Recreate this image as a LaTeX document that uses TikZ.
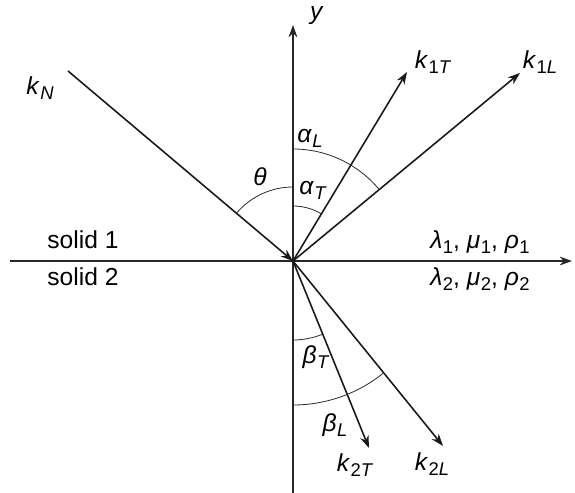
\documentclass[tikz,border=0pt]{standalone}
\usepackage{amsmath,amssymb}
\usepackage{fontspec}
\setmainfont{Liberation Sans}
\usetikzlibrary{positioning, arrows.meta, calc}
\tikzset{
  axisline/.style={line width=0.8pt, black!85, -{Stealth[length=7pt, width=5pt]}},
  waveline/.style={line width=0.9pt, black!90, -{Stealth[length=7pt, width=5pt]}},
  anglearc/.style={line width=0.45pt, black!85},
  lbl/.style={font=\fontsize{14}{17}\selectfont, inner sep=1pt}
}
% slanted symbol with a small lowered index
\newcommand{\wv}[2]{\textit{#1}\kern0.3pt\raisebox{-0.4ex}{\fontsize{10.5}{12}\selectfont #2}}

\begin{document}
\begin{tikzpicture}[x=0.02cm, y=0.02cm]
  \useasboundingbox (-293,-232) rectangle (282,261);
  \coordinate (O) at (0,0);
  \coordinate (xl) at (-283,0); \coordinate (xr) at (279,0);
  \coordinate (yb) at (0,-232); \coordinate (yt) at (0,236);
  \coordinate (kN) at (-225,190);
  \coordinate (k1T) at (114,189); \coordinate (k1L) at (227,188);
  \coordinate (k2T) at (76,-187); \coordinate (k2L) at (150,-185);
  % axes
  \draw[axisline] (xl) -- (xr);
  \draw[axisline] (yb) -- (yt);
  % waves
  \draw[waveline] (kN) -- (O);
  \draw[waveline] (O) -- (k1T);
  \draw[waveline] (O) -- (k1L);
  \draw[waveline] (O) -- (k2T);
  \draw[waveline] (O) -- (k2L);
  % angles
  \draw[anglearc] (90:74) arc[start angle=90, end angle=139.8, radius=74];
  \draw[anglearc] (90:55) arc[start angle=90, end angle=58.9, radius=55];
  \draw[anglearc] (90:112) arc[start angle=90, end angle=39.6, radius=112];
  \draw[anglearc] (270:79) arc[start angle=270, end angle=292.1, radius=79];
  \draw[anglearc] (270:144) arc[start angle=270, end angle=309.0, radius=144];
  % labels
  \node[lbl] (ylab) at (24,245) {\textit{y}};
  \node[lbl] (kNlab) at (-253,173) {\wv{k}{\textit{N}}};
  \node[lbl] (k1Tlab) at (140,199) {\wv{k}{1\textit{T}}};
  \node[lbl] (k1Llab) at (247,199) {\wv{k}{1\textit{L}}};
  \node[lbl] (k2Tlab) at (62,-204) {\wv{k}{2\textit{T}}};
  \node[lbl] (k2Llab) at (139,-203) {\wv{k}{2\textit{L}}};
  \node[lbl] (thlab) at (-33,84) {\textit{θ}};
  \node[lbl] (aTlab) at (20,71) {\wv{α}{\textit{T}}};
  \node[lbl] (aLlab) at (17,123) {\wv{α}{\textit{L}}};
  \node[lbl] (bTlab) at (23,-96) {\wv{β}{\textit{T}}};
  \node[lbl] (bLlab) at (42,-164) {\wv{β}{\textit{L}}};
  \node[lbl] (mat1) at (187,19) {\wv{λ}{1}, \wv{μ}{1}, \wv{ρ}{1}};
  \node[lbl] (mat2) at (187,-18) {\wv{λ}{2}, \wv{μ}{2}, \wv{ρ}{2}};
  \node[lbl] (sol1) at (-210,21) {solid 1};
  \node[lbl] (sol2) at (-210,-16) {solid 2};
\end{tikzpicture}
\end{document}
